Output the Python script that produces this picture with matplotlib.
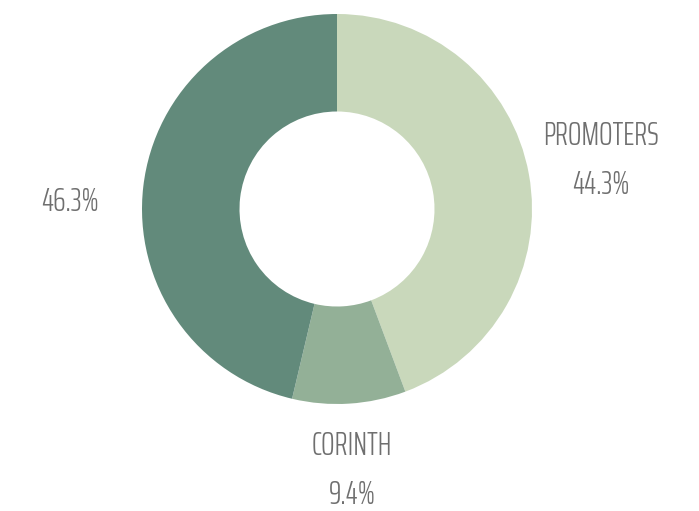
import matplotlib
matplotlib.use("Agg")
import matplotlib.pyplot as plt

labels = ["PROMOTERS", "CORINTH", ""]
values = [44.3, 9.4, 46.3]
colors = ["#c9d8bb", "#93b097", "#628a7b"]

fig = plt.figure(figsize=(6.99, 5.11), dpi=100)
ax = fig.add_axes([142 / 699, 107 / 511, 390 / 699, 390 / 511])
ax.pie(values, colors=colors, startangle=90, counterclock=False, radius=1,
       wedgeprops=dict(width=0.5, linewidth=0))
ax.set_xlim(-1, 1)
ax.set_ylim(-1, 1)
ax.set_aspect("auto")
ax.axis("off")

# baseline anchors of the labels, in the pie axes' data units
label_pos = [(1.354, 0.328), (0.077, -1.262), (-1.369, -0.010)]
line_gap = 0.25
txt = dict(color="#6f6f6f", fontsize=23, weight=300,
           family=["Saira ExtraCondensed", "DejaVu Sans"],
           ha="center", va="baseline", clip_on=False)
for lab, val, (x, y) in zip(labels, values, label_pos):
    if lab:
        ax.text(x, y, lab, **txt)
        ax.text(x, y - line_gap, f"{val}%", **txt)
    else:
        ax.text(x, y, f"{val}%", **txt)

fig.savefig("out.png", dpi=100)
